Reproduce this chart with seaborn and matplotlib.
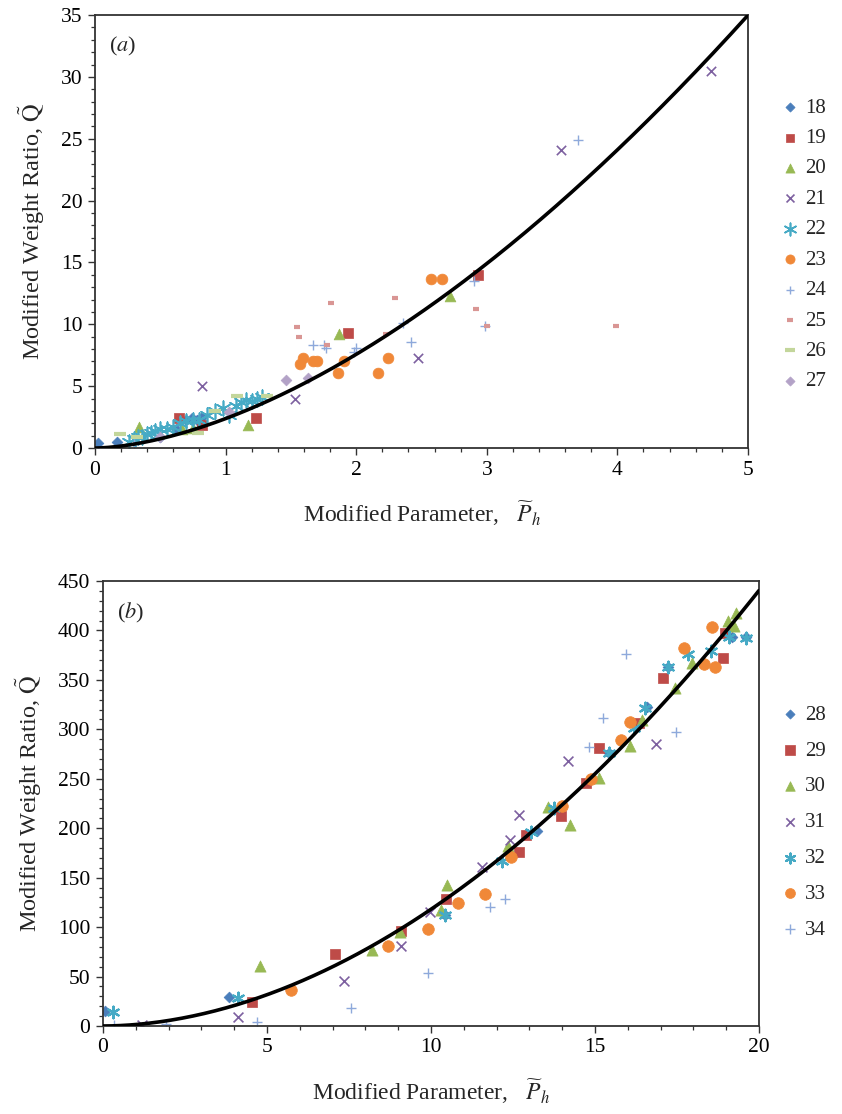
import numpy as np
import pandas as pd
import matplotlib
matplotlib.use("Agg")
import matplotlib.pyplot as plt
import seaborn as sns
from matplotlib.ticker import MultipleLocator

sns.set_theme(style="ticks")
plt.rcParams["font.family"] = ["Liberation Serif", "DejaVu Serif"]
plt.rcParams["mathtext.fontset"] = "stix"

# ---------------- panel (a) data ----------------
a18_x = [0.02, 0.17, 0.50, 0.62, 0.70, 0.74, 0.78, 0.82]
a18_y = [0.4, 0.5, 0.9, 1.5, 2.3, 2.4, 2.3, 2.5]
a19_x = [0.64, 0.82, 1.23, 1.94, 2.93]
a19_y = [2.4, 1.9, 2.4, 9.3, 14.0]
a20_x = [0.34, 0.67, 0.75, 1.17, 1.87, 2.72]
a20_y = [1.7, 1.5, 1.6, 1.85, 9.2, 12.3]
a21_x = [0.82, 1.53, 2.47, 3.57, 4.72]
a21_y = [5.0, 4.0, 7.3, 24.1, 30.5]
a22_x = [0.26, 0.30, 0.33, 0.36, 0.40, 0.43, 0.46, 0.50, 0.55, 0.60, 0.65, 0.70,
         0.75, 0.80, 0.86, 0.92, 0.98, 1.03, 1.08, 1.12, 1.16, 1.20, 1.24, 1.28]
a22_y = [0.5, 0.7, 0.9, 0.9, 1.1, 1.2, 1.4, 1.5, 1.5, 1.7, 2.0, 2.2,
         2.3, 2.3, 2.7, 3.0, 3.2, 2.7, 3.4, 3.7, 3.9, 3.8, 4.0, 4.1]
a23_x = [1.57, 1.59, 1.67, 1.70, 1.86, 1.91, 2.17, 2.24, 2.57, 2.66]
a23_y = [6.8, 7.3, 7.0, 7.0, 6.1, 7.0, 6.1, 7.3, 13.7, 13.7]
a24_x = [0.30, 1.67, 1.75, 1.77, 1.98, 2.00, 2.36, 2.42, 2.90, 2.99, 3.70]
a24_y = [0.3, 8.3, 8.3, 8.1, 7.8, 8.1, 10.1, 8.6, 13.5, 9.9, 24.9]
a25_x = [1.55, 1.56, 1.78, 1.81, 2.23, 2.30, 2.92, 3.00, 3.99]
a25_y = [9.8, 9.0, 8.3, 11.7, 9.2, 12.1, 11.2, 9.9, 9.9]
a26_x = [0.19, 0.32, 0.79, 0.92, 1.09, 1.32]
a26_y = [1.1, 0.9, 1.2, 3.0, 4.2, 4.2]
a27_x = [0.50, 1.03, 1.46, 1.63]
a27_y = [0.9, 2.9, 5.5, 5.7]

# ---------------- panel (b) data ----------------
b28_x = [0.06, 3.84, 10.44, 13.24, 15.43, 16.59, 17.23, 19.18, 19.6]
b28_y = [15, 29, 112, 197, 276, 323, 363, 393, 393]
b29_x = [4.54, 7.06, 9.1, 10.47, 12.69, 12.9, 13.97, 14.73, 15.13, 16.35, 17.08, 18.9, 18.96]
b29_y = [24, 73, 96, 128, 176, 193, 212, 246, 281, 306, 352, 372, 397]
b30_x = [4.78, 8.19, 9.07, 10.32, 10.5, 12.36, 13.58, 14.25, 15.13, 16.07, 16.44,
         17.44, 17.96, 19.06, 19.24, 19.3]
b30_y = [61, 77, 95, 117, 143, 182, 221, 203, 251, 283, 309, 342, 367, 410, 404, 418]
b31_x = [1.19, 4.11, 7.34, 9.1, 9.98, 11.57, 12.42, 12.69, 14.19, 16.86]
b31_y = [1, 9, 45, 81, 115, 161, 188, 213, 268, 285]
b32_x = [0.3, 4.11, 10.44, 12.18, 13.06, 13.76, 15.43, 16.19, 16.53, 17.23, 17.84,
         18.54, 19.09, 19.6]
b32_y = [14, 28, 112, 167, 196, 220, 276, 301, 322, 363, 376, 379, 393, 392]
b33_x = [5.72, 8.68, 9.92, 10.84, 11.66, 12.45, 14.0, 14.89, 15.8, 16.07, 17.72,
         18.33, 18.57, 18.66]
b33_y = [36, 81, 98, 124, 133, 171, 222, 250, 289, 307, 382, 366, 403, 363]
b34_x = [0.33, 1.92, 4.69, 7.55, 9.92, 11.81, 12.27, 14.83, 15.25, 15.95, 17.47]
b34_y = [1, 2, 4, 18, 54, 120, 128, 282, 311, 376, 297]

# fitted power-law curves  Q = k * P^n
fit_a_k, fit_a_n = 2.38, 1.67
fit_b_k, fit_b_n = 1.485, 1.90

series_a = [("18", a18_x, a18_y), ("19", a19_x, a19_y), ("20", a20_x, a20_y),
            ("21", a21_x, a21_y), ("22", a22_x, a22_y), ("23", a23_x, a23_y),
            ("24", a24_x, a24_y), ("25", a25_x, a25_y), ("26", a26_x, a26_y),
            ("27", a27_x, a27_y)]
series_b = [("28", b28_x, b28_y), ("29", b29_x, b29_y), ("30", b30_x, b30_y),
            ("31", b31_x, b31_y), ("32", b32_x, b32_y), ("33", b33_x, b33_y),
            ("34", b34_x, b34_y)]

BLUE, RED, GREEN, PURPLE = "#4A7EBB", "#BE4B48", "#98B954", "#7D60A0"
TEAL, ORANGE, LBLUE, PINK = "#46AAC5", "#F08838", "#8EA9DB", "#D99694"
LGREEN, LAV = "#C3D69B", "#B3A2C7"

# marker, colour, size, line width
styles = {
    "18": ("D", BLUE, 30, 0.5), "19": ("s", RED, 55, 0.5), "20": ("^", GREEN, 60, 0.5),
    "21": ("x", PURPLE, 45, 1.2), "22": ((6, 2, 0), TEAL, 110, 1.2),
    "23": ("o", ORANGE, 60, 0.5), "24": ("+", LBLUE, 55, 1.0),
    "25": ("_", PINK, 25, 3.0), "26": ("_", LGREEN, 70, 3.0), "27": ("D", LAV, 30, 0.5),
    "28": ("D", BLUE, 30, 0.5), "29": ("s", RED, 60, 0.5), "30": ("^", GREEN, 65, 0.5),
    "31": ("x", PURPLE, 50, 1.2), "32": ((6, 2, 0), TEAL, 70, 1.6),
    "33": ("o", ORANGE, 70, 0.5), "34": ("+", LBLUE, 60, 1.0),
}

fig = plt.figure(figsize=(8.42, 11.14), dpi=100)
ax_a = fig.add_axes([0.1128, 0.5978, 0.7755, 0.3887])
ax_b = fig.add_axes([0.1223, 0.0790, 0.7790, 0.3995])


def draw_series(ax, series):
    for name, xs, ys in series:
        mk, col, s, lw = styles[name]
        df = pd.DataFrame({"x": xs, "y": ys})
        kw = dict(marker=mk, s=s, linewidth=lw, color=col, label=name, zorder=2)
        if matplotlib.markers.MarkerStyle(mk).is_filled():
            kw["edgecolor"] = col
        sns.scatterplot(data=df, x="x", y="y", ax=ax, legend=False, **kw)


def draw_fit(ax, k, n, xmax):
    xs = np.linspace(0, xmax, 300)
    df = pd.DataFrame({"x": xs, "y": k * xs ** n})
    sns.lineplot(data=df, x="x", y="y", ax=ax, color="black", linewidth=2.6,
                 zorder=5, label="_nolegend_", legend=False)


draw_series(ax_a, series_a)
draw_fit(ax_a, fit_a_k, fit_a_n, 5.0)
draw_series(ax_b, series_b)
draw_fit(ax_b, fit_b_k, fit_b_n, 20.0)

ylab = r"Modified Weight Ratio, $\tilde{\mathrm{Q}}$"
xlab = r"Modified Parameter,   $\widetilde{P}_h$"

for ax, xmax, ymax, xmaj, xmin, ymaj, ymin, tag in [
        (ax_a, 5, 35, 1, 0.2, 5, 1, "a"),
        (ax_b, 20, 450, 5, 1, 50, 10, "b")]:
    ax.set_xlim(0, xmax)
    ax.set_ylim(0, ymax)
    ax.xaxis.set_major_locator(MultipleLocator(xmaj))
    ax.xaxis.set_minor_locator(MultipleLocator(xmin))
    ax.yaxis.set_major_locator(MultipleLocator(ymaj))
    ax.yaxis.set_minor_locator(MultipleLocator(ymin))
    ax.tick_params(which="major", direction="out", length=5, width=1.0,
                   labelsize=15.5, color="#333333", labelcolor="black", pad=4)
    ax.tick_params(which="minor", direction="out", length=3, width=0.9, color="#333333")
    ax.tick_params(top=False, right=False, which="both")
    for sp in ax.spines.values():
        sp.set_visible(True)
        sp.set_linewidth(1.3)
        sp.set_color("#333333")
    ax.set_xlabel(xlab, fontsize=17, labelpad=14)
    ax.set_ylabel(ylab, fontsize=17.5, labelpad=10)
    ax.text(0.022, 0.955, "(" + r"$\mathit{" + tag + r"}$" + ")", transform=ax.transAxes,
            fontsize=16, va="top")
    ax.grid(False)

ax_a.legend(loc="upper left", bbox_to_anchor=(0.926, 0.912), bbox_transform=fig.transFigure,
            frameon=False, fontsize=15, handlelength=0.95, handletextpad=0.25,
            borderaxespad=0, borderpad=0, labelspacing=0.52, markerscale=0.85)
ax_b.legend(loc="upper left", bbox_to_anchor=(0.926, 0.367), bbox_transform=fig.transFigure,
            frameon=False, fontsize=15, handlelength=0.95, handletextpad=0.25,
            borderaxespad=0, borderpad=0, labelspacing=0.78, markerscale=0.85)

fig.savefig("out.png", dpi=100, facecolor="white")
